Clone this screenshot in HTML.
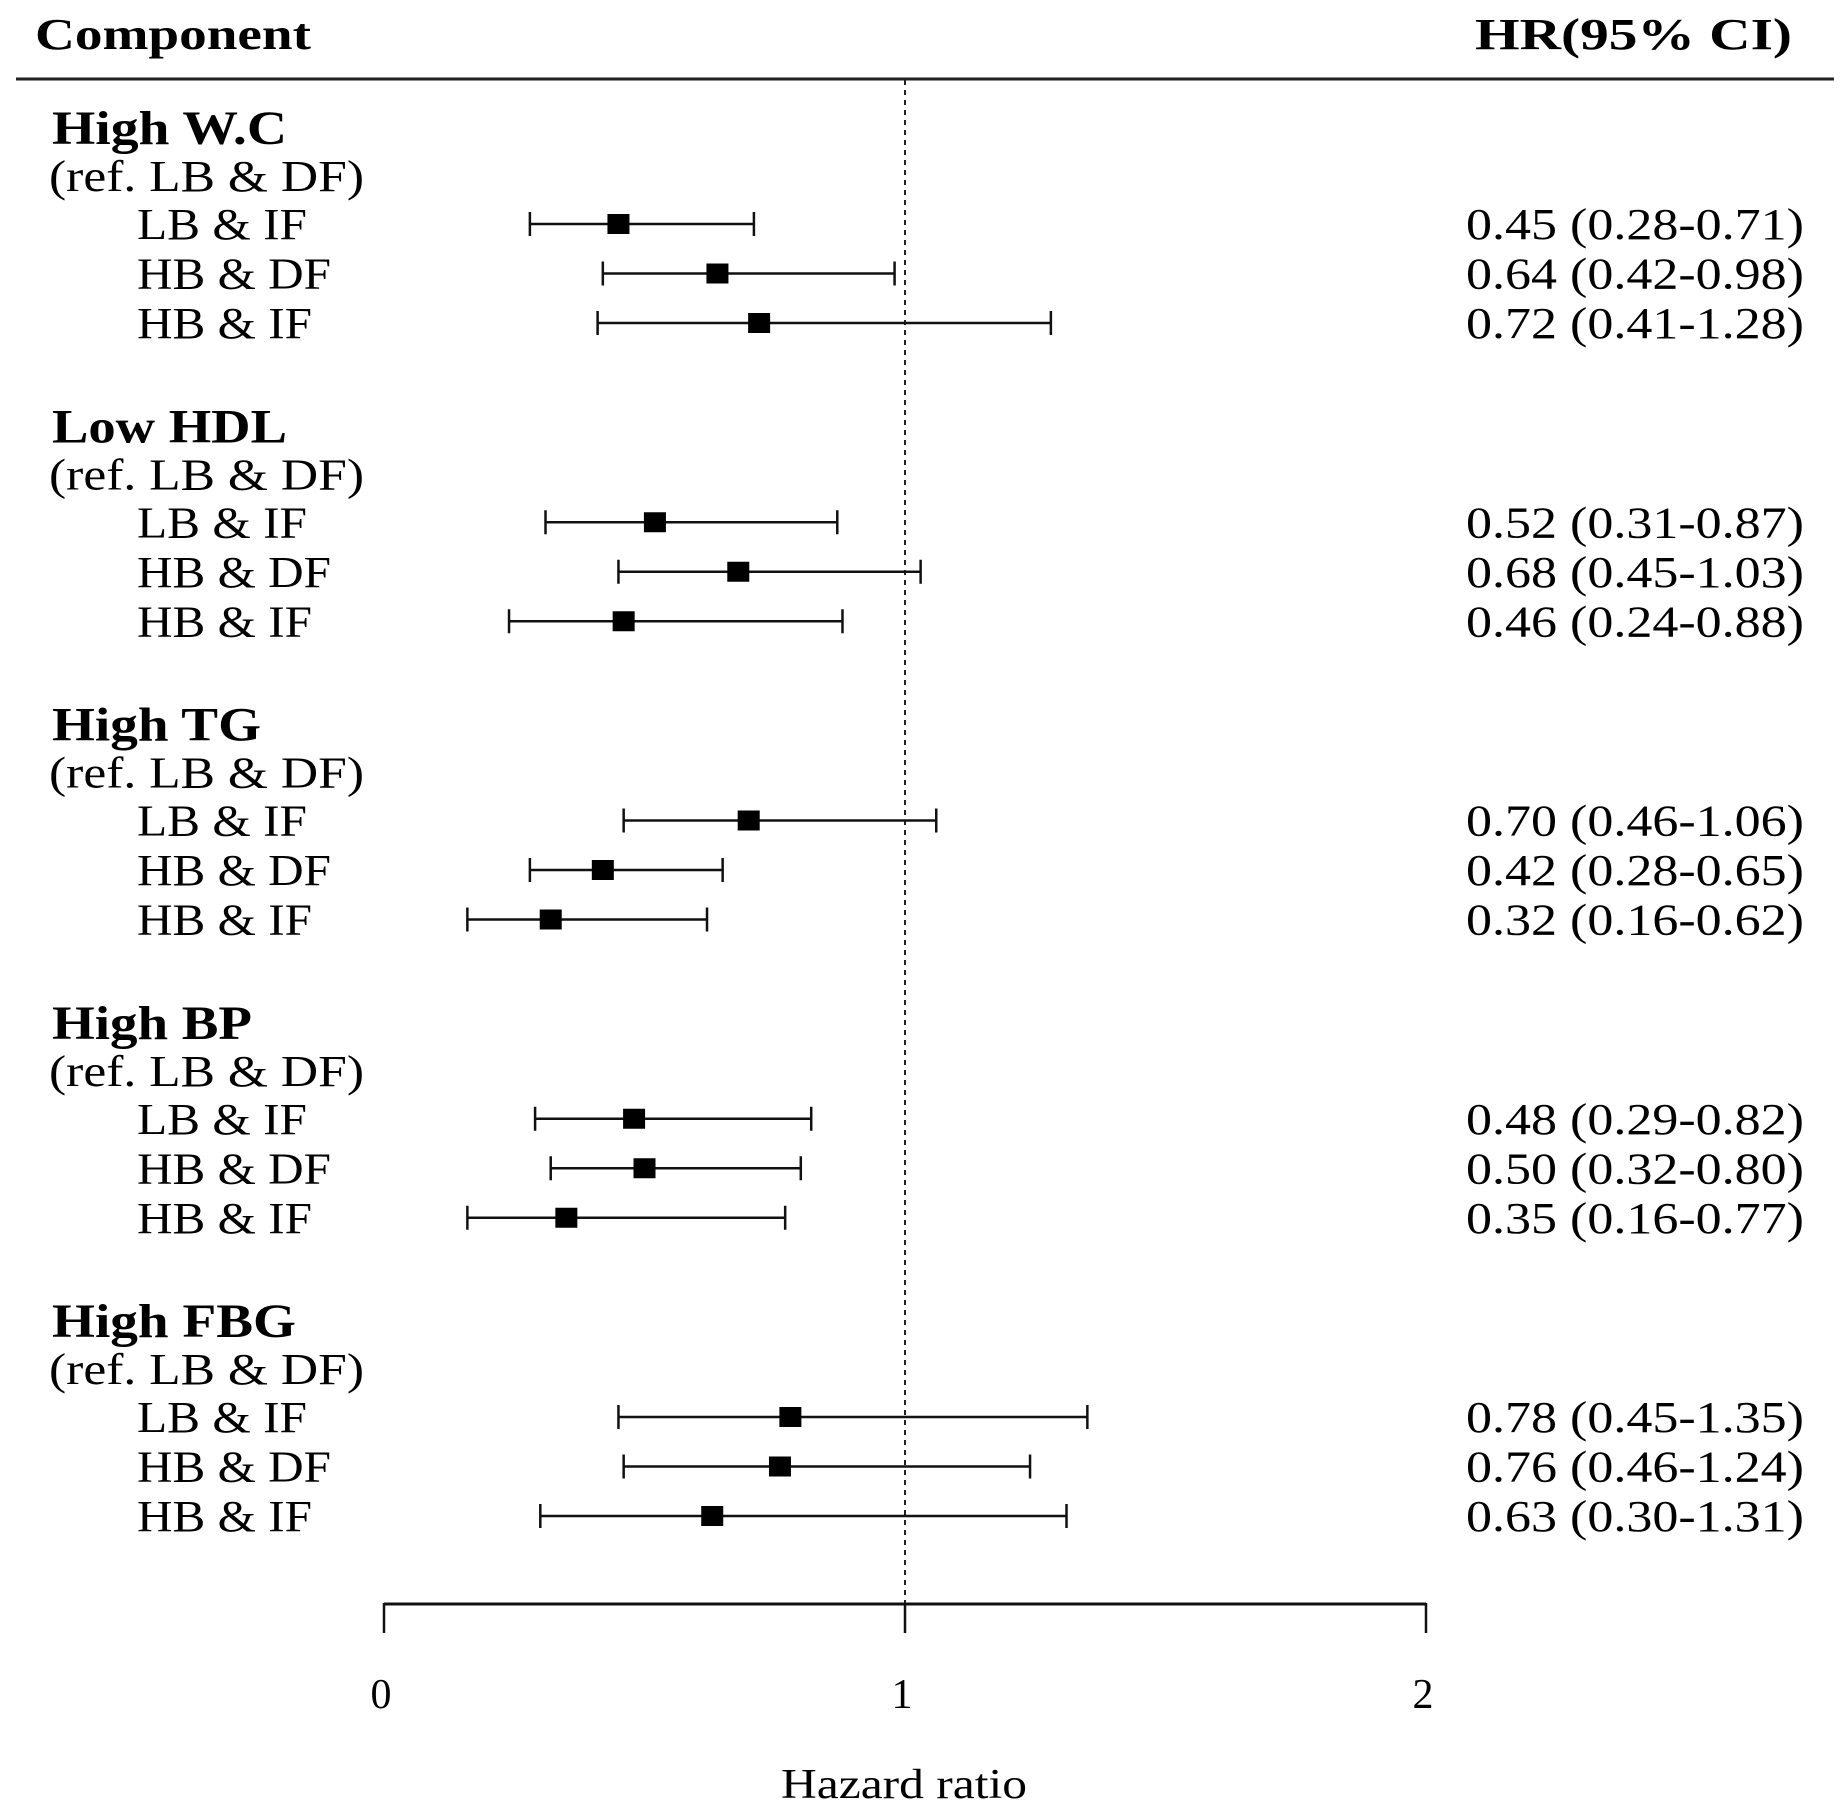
<!DOCTYPE html>
<html><head><meta charset="utf-8"><style>
html,body{margin:0;padding:0;background:#fff;}
svg{display:block;}
text{font-family:"Liberation Serif",serif;fill:#000;}
</style></head><body>
<svg id="chart" width="1840" height="1813" viewBox="0 0 1840 1813" xmlns="http://www.w3.org/2000/svg">
<text x="35" y="49" font-size="44" font-weight="bold" textLength="276" lengthAdjust="spacingAndGlyphs">Component</text>
<text x="1475" y="49" font-size="44" font-weight="bold" textLength="317" lengthAdjust="spacingAndGlyphs">HR(95% CI)</text>
<line x1="16" y1="79" x2="1834" y2="79" stroke="#222" stroke-width="3"/>
<line x1="905" y1="80" x2="905" y2="1604" stroke="#222" stroke-width="2" stroke-dasharray="5,5"/>
<g id="marks"></g>
<g id="axis"></g>
<text x="781" y="1798" font-size="42" textLength="246" lengthAdjust="spacingAndGlyphs">Hazard ratio</text>
</svg>
<script>
const groups = ["High W.C","Low HDL","High TG","High BP","High FBG"];
const rowLabels = ["LB & IF","HB & DF","HB & IF"];
const hr = [0.45,0.64,0.72, 0.52,0.68,0.46, 0.70,0.42,0.32, 0.48,0.50,0.35, 0.78,0.76,0.63];
const lower = [0.28,0.42,0.41, 0.31,0.45,0.24, 0.46,0.28,0.16, 0.29,0.32,0.16, 0.45,0.46,0.30];
const upper = [0.71,0.98,1.28, 0.87,1.03,0.88, 1.06,0.65,0.62, 0.82,0.80,0.77, 1.35,1.24,1.31];
const ticks = [0,1,2];
const titleWidths = [235,235,209,200,244];
const rowLabelWidths = [170,194,175];

const NS = "http://www.w3.org/2000/svg";
const x = v => 384 + v * 521;
const groupY = g => 224 + g * 298.25;
const rowY = (g, r) => groupY(g) + r * 49.5;
const marks = document.getElementById('marks');
const axis = document.getElementById('axis');
function mk(tag, attrs, parent) {
  const e = document.createElementNS(NS, tag);
  for (const k in attrs) e.setAttribute(k, attrs[k]);
  parent.appendChild(e);
  return e;
}
const fmt = v => v.toFixed(2);
groups.forEach((gname, g) => {
  const t = mk('text', {x: 52, y: groupY(g) - 80, 'font-size': 48, 'font-weight': 'bold', textLength: titleWidths[g], lengthAdjust: 'spacingAndGlyphs'}, marks);
  
  
  t.textContent = gname;
  const rf = mk('text', {x: 49, y: groupY(g) - 33, 'font-size': 44, textLength: 315, lengthAdjust: 'spacingAndGlyphs'}, marks);
  
  
  rf.textContent = "(ref. LB & DF)";
  rowLabels.forEach((rl, r) => {
    const i = g * 3 + r;
    const y = rowY(g, r);
    const lab = mk('text', {x: 137, y: y + 15, 'font-size': 44, textLength: rowLabelWidths[r], lengthAdjust: 'spacingAndGlyphs'}, marks);
    
    
    lab.textContent = rl;
    const ln = mk('line', {x1: x(lower[i]), x2: x(upper[i]), y1: y, y2: y, stroke: '#111', 'stroke-width': 2.5}, marks);
    
    
    [lower[i], upper[i]].forEach(v => {
      const c = mk('line', {x1: x(v), x2: x(v), y1: y - 12, y2: y + 12, stroke: '#111', 'stroke-width': 2.5}, marks);
      
      
    });
    const sq = mk('rect', {x: x(hr[i]) - 11, y: y - 10, width: 22, height: 20, fill: '#000'}, marks);
    
    
    const vt = mk('text', {x: 1804, y: y + 15, 'font-size': 44, 'text-anchor': 'end', textLength: 338, lengthAdjust: 'spacingAndGlyphs'}, marks);
    
    
    vt.textContent = fmt(hr[i]) + " (" + fmt(lower[i]) + "-" + fmt(upper[i]) + ")";
  });
});
const al = mk('line', {x1: x(ticks[0]), x2: x(ticks[ticks.length-1]), y1: 1604, y2: 1604, stroke: '#111', 'stroke-width': 3}, axis);


ticks.forEach(t => {
  const tk = mk('line', {x1: x(t), x2: x(t), y1: 1603, y2: 1633, stroke: '#111', 'stroke-width': 2.5}, axis);
  
  
  const tl = mk('text', {x: x(t) - 3, y: 1708, 'font-size': 42, 'text-anchor': 'middle'}, axis);
  
  
  tl.textContent = t;
});
</script>
</body></html>
